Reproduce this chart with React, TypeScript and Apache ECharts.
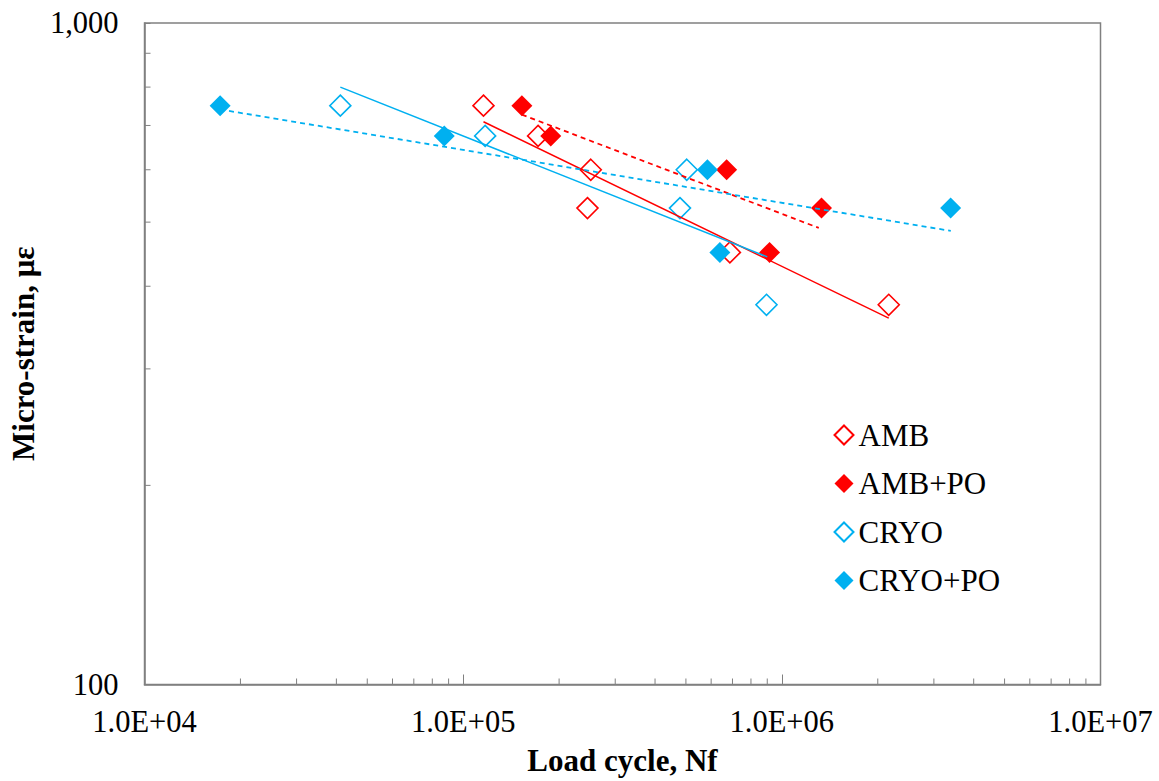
import React, { useEffect, useRef } from "react";
import * as echarts from "echarts";

// ---- data ----
const seriesNames = ["AMB", "AMB+PO", "CRYO", "CRYO+PO"];

const ambPoints: [number, number][] = [
  [1.158e5, 750],
  [1.718e5, 675],
  [2.514e5, 600],
  [2.455e5, 525],
  [6.87e5, 450],
  [2.165e6, 375],
];
const ambPoPoints: [number, number][] = [
  [1.528e5, 750],
  [1.883e5, 675],
  [6.71e5, 600],
  [1.332e6, 525],
  [9.15e5, 450],
];
const cryoPoints: [number, number][] = [
  [4.116e4, 750],
  [1.172e5, 675],
  [5.03e5, 600],
  [4.79e5, 525],
  [8.95e5, 375],
];
const cryoPoPoints: [number, number][] = [
  [1.727e4, 750],
  [8.72e4, 675],
  [5.84e5, 600],
  [3.386e6, 525],
  [6.39e5, 450],
];

// power-law trend lines (end points)
const ambTrend: [number, number][] = [
  [1.158e5, 709],
  [2.165e6, 358],
];
const ambPoTrend: [number, number][] = [
  [1.528e5, 727],
  [1.306e6, 490],
];
const cryoTrend: [number, number][] = [
  [4.116e4, 800],
  [9.0e5, 443],
];
const cryoPoTrend: [number, number][] = [
  [1.727e4, 740],
  [3.39e6, 485],
];

// axis ranges and minor tick values
const xMin = 1e4;
const xMax = 1e7;
const yMin = 100;
const yMax = 1000;
const xMinorTicks = [
  2e4, 3e4, 4e4, 5e4, 6e4, 7e4, 8e4, 9e4,
  2e5, 3e5, 4e5, 5e5, 6e5, 7e5, 8e5, 9e5,
  2e6, 3e6, 4e6, 5e6, 6e6, 7e6, 8e6, 9e6,
];
const yMinorTicks = [200, 300, 400, 500, 600, 700, 800, 900];

const RED = "#FF0000";
const BLUE = "#00B0F0";
const GRAY = "#808080";
const FONT = "Liberation Serif";

const fmtSci = (v: number) => {
  const e = Math.round(Math.log10(v));
  const m = v / Math.pow(10, e);
  return m.toFixed(1) + "E+" + String(e).padStart(2, "0");
};

export default function App() {
  const ref = useRef<HTMLDivElement>(null);

  useEffect(() => {
    if (!ref.current) return;
    const chart = echarts.init(ref.current, undefined, { renderer: "svg" });

    const openItem = (c: string) => ({
      color: "rgba(255,255,255,0)",
      borderColor: c,
      borderWidth: 1.6,
      opacity: 1,
    });
    const fillItem = (c: string) => ({ color: c, borderWidth: 0, opacity: 1 });

    const trend = (data: [number, number][], c: string, dashed: boolean) => ({
      type: "line",
      data,
      showSymbol: false,
      symbol: "none",
      silent: true,
      z: 4,
      lineStyle: {
        color: c,
        width: dashed ? 1.8 : 1.5,
        type: dashed ? [5, 4] : "solid",
      },
    });

    chart.setOption({
      animation: false,
      backgroundColor: "#ffffff",
      textStyle: { fontFamily: FONT },
      grid: {
        left: 143,
        right: 58.5,
        top: 23,
        bottom: 95,
        show: true,
        borderColor: GRAY,
        borderWidth: 1.5,
        backgroundColor: "rgba(0,0,0,0)",
      },
      legend: {
        data: seriesNames,
        orient: "vertical",
        left: 828.5,
        top: 414.5,
        itemWidth: 19,
        itemHeight: 19,
        itemGap: 17.5,
        textStyle: { fontFamily: FONT, fontSize: 31, color: "#000" },
        selectedMode: false,
      },
      xAxis: {
        type: "log",
        logBase: 10,
        min: xMin,
        max: xMax,
        name: "Load cycle, Nf",
        nameLocation: "middle",
        nameGap: 60.5,
        nameTextStyle: {
          fontFamily: FONT,
          fontSize: 31,
          fontWeight: "bold",
          color: "#000",
        },
        axisLine: { lineStyle: { color: GRAY, width: 1.5 } },
        axisTick: { inside: true, length: 10, lineStyle: { color: GRAY, width: 1 } },
        axisLabel: {
          formatter: (v: number) => fmtSci(v),
          fontFamily: FONT,
          fontSize: 30.5,
          color: "#000",
          margin: 22,
        },
        splitLine: { show: false },
      },
      yAxis: {
        type: "log",
        logBase: 10,
        min: yMin,
        max: yMax,
        name: "Micro-strain, με",
        nameLocation: "middle",
        nameGap: 102.5,
        nameTextStyle: {
          fontFamily: FONT,
          fontSize: 31,
          fontWeight: "bold",
          color: "#000",
        },
        axisLine: { lineStyle: { color: GRAY, width: 1.5 } },
        axisTick: { inside: true, length: 6, lineStyle: { color: GRAY, width: 1 } },
        axisLabel: {
          formatter: (v: number) => Math.round(v).toLocaleString("en-US"),
          fontFamily: FONT,
          fontSize: 30.5,
          color: "#000",
          margin: 26,
        },
        splitLine: { show: false },
      },
      series: [
        {
          name: "minorX",
          type: "custom",
          silent: true,
          z: 1,
          clip: false,
          data: xMinorTicks.map((v) => [v, yMin]),
          renderItem: (_p: any, api: any) => {
            const pt = api.coord([api.value(0), api.value(1)]);
            return {
              type: "line",
              shape: { x1: pt[0], y1: pt[1], x2: pt[0], y2: pt[1] - 6 },
              style: { stroke: GRAY, lineWidth: 1 },
            };
          },
        },
        {
          name: "minorY",
          type: "custom",
          silent: true,
          z: 1,
          clip: false,
          data: yMinorTicks.map((v) => [xMin, v]),
          renderItem: (_p: any, api: any) => {
            const pt = api.coord([api.value(0), api.value(1)]);
            return {
              type: "line",
              shape: { x1: pt[0], y1: pt[1], x2: pt[0] + 6, y2: pt[1] },
              style: { stroke: GRAY, lineWidth: 1 },
            };
          },
        },
        {
          name: "AMB",
          type: "scatter",
          symbol: "diamond",
          symbolSize: 21,
          data: ambPoints,
          itemStyle: openItem(RED),
        },
        {
          name: "AMB+PO",
          type: "scatter",
          symbol: "diamond",
          symbolSize: 21,
          data: ambPoPoints,
          itemStyle: fillItem(RED),
        },
        {
          name: "CRYO",
          type: "scatter",
          symbol: "diamond",
          symbolSize: 21,
          data: cryoPoints,
          itemStyle: openItem(BLUE),
        },
        {
          name: "CRYO+PO",
          type: "scatter",
          symbol: "diamond",
          symbolSize: 21,
          data: cryoPoPoints,
          itemStyle: fillItem(BLUE),
        },
        trend(ambTrend, RED, false),
        trend(ambPoTrend, RED, true),
        trend(cryoTrend, BLUE, false),
        trend(cryoPoTrend, BLUE, true),
      ],
    });

    return () => chart.dispose();
  }, []);

  return (
    <div
      ref={ref}
      style={{
        position: "fixed",
        left: 0,
        top: 0,
        width: 1159,
        height: 781,
        background: "#fff",
      }}
    />
  );
}
